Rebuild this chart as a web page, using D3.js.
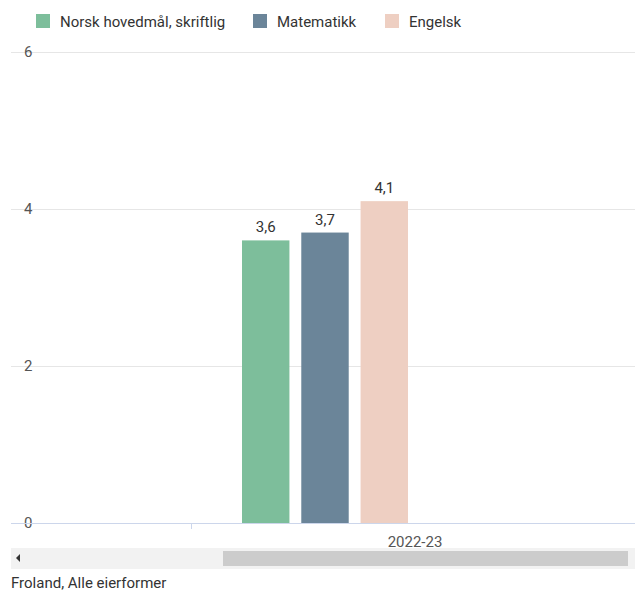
<!DOCTYPE html>
<html><head><meta charset="utf-8">
<script src="https://cdn.jsdelivr.net/npm/d3@7"></script>
<style>body{margin:0;background:#fff;font-family:Roboto,"Noto Sans",sans-serif;}</style>
</head><body><svg id="c" width="635" height="593" style="display:block"></svg>
<script>
const categories = ["2022-23"];
const seriesNames = ["Norsk hovedmål, skriftlig", "Matematikk", "Engelsk"];
const seriesValues = [3.6, 3.7, 4.1];
const seriesColors = ["#7dbe9b", "#6b8599", "#eecfc2"];
const yTicks = [0, 2, 4, 6];
const caption = "Froland, Alle eierformer";

(function () {
const svg = d3.select("#c");
const fs = 15;
const plotLeft = 11, plotRight = 635, plotTop = 52, plotBottom = 523;
const y = d3.scaleLinear().domain([0, 6]).range([plotBottom, plotTop]);
const x = d3.scaleBand().domain(categories).range([191, 459]).paddingInner(0).paddingOuter(0);
const xs = d3.scaleBand().domain(seriesNames).range([x(categories[0]) + 51, x(categories[0]) + 51 + 166]).paddingInner(0.2).paddingOuter(0);

svg.append("g").selectAll("line").data(yTicks.filter(d => d !== 0)).join("line")
  .attr("x1", plotLeft).attr("x2", plotRight).attr("y1", d => Math.round(y(d)) + 0.5).attr("y2", d => Math.round(y(d)) + 0.5)
  .attr("stroke", "#e6e6e6").attr("stroke-width", 1);

svg.append("g").selectAll("text").data(yTicks).join("text")
  .attr("x", 24).attr("y", d => y(d) + 5).text(d => d)
  .attr("font-size", fs).attr("fill", "#555");

const cat = categories[0];
svg.append("g").selectAll("rect").data(seriesValues).join("rect")
  .attr("x", (d, i) => xs(seriesNames[i]))
  .attr("width", xs.bandwidth())
  .attr("y", d => y(d)).attr("height", d => y(0) - y(d))
  .attr("fill", (d, i) => seriesColors[i]);

svg.append("g").selectAll("text").data(seriesValues).join("text")
  .attr("x", (d, i) => xs(seriesNames[i]) + xs.bandwidth() / 2)
  .attr("y", d => y(d) - 8)
  .attr("text-anchor", "middle").attr("font-size", fs).attr("fill", "#333")
  .text(d => d3.format(".1f")(d).replace(".", ","));

svg.append("line").attr("x1", plotLeft).attr("x2", plotRight).attr("y1", y(0) + 0.5).attr("y2", y(0) + 0.5)
  .attr("stroke", "#ccd6eb").attr("stroke-width", 1);
svg.append("line").attr("x1", x(cat) + 0.5).attr("x2", x(cat) + 0.5).attr("y1", y(0)).attr("y2", y(0) + 6)
  .attr("stroke", "#ccd6eb").attr("stroke-width", 1);
svg.append("text").attr("x", x(cat) + x.bandwidth() / 2 + 90).attr("y", 547)
  .attr("text-anchor", "middle").attr("font-size", fs).attr("fill", "#555").text(cat);

svg.append("rect").attr("x", plotLeft).attr("y", 548).attr("width", plotRight - plotLeft).attr("height", 21).attr("fill", "#f2f2f2");
svg.append("rect").attr("x", 223).attr("y", 551).attr("width", 405).attr("height", 15).attr("fill", "#cccccc");
svg.append("path").attr("d", "M20,554 L16,558 L20,562 Z").attr("fill", "#333");

const legX = [36, 253, 385];
const lg = svg.append("g").selectAll("g").data(seriesNames).join("g")
  .attr("transform", (d, i) => `translate(${legX[i]},14)`);
lg.append("rect").attr("width", 14).attr("height", 14).attr("fill", (d, i) => seriesColors[i]);
lg.append("text").attr("x", 24).attr("y", 13).attr("font-size", fs).attr("fill", "#333").text(d => d);

svg.append("text").attr("x", 11).attr("y", 588).attr("font-size", fs).attr("fill", "#333").text(caption);
})();
</script></body></html>
